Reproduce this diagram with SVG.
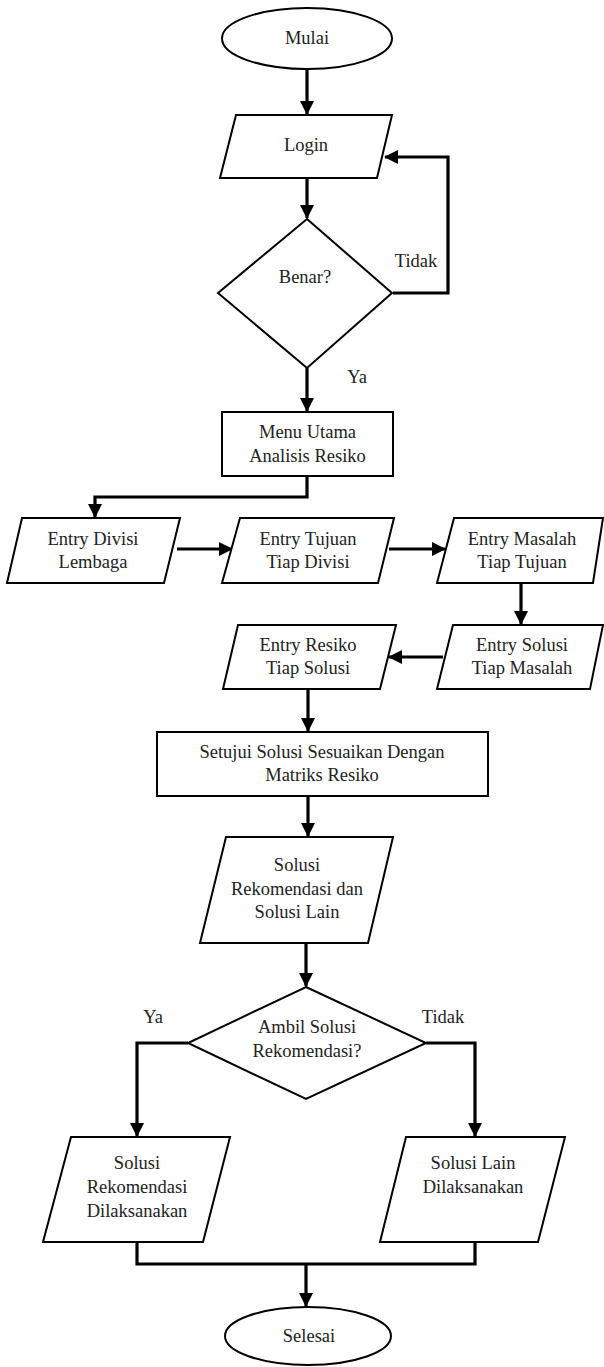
<svg xmlns="http://www.w3.org/2000/svg" width="604" height="1367" viewBox="0 0 604 1367">
<style>
.s{fill:#fff;stroke:#000;stroke-width:2}
.c{fill:none;stroke:#000;stroke-width:3.2}
.t{font-family:"Liberation Serif","Times New Roman",serif;font-size:18.5px;fill:#222;text-anchor:middle}
</style>
<defs>
<marker id="ah" markerUnits="userSpaceOnUse" markerWidth="14" markerHeight="14" viewBox="0 0 14 14" refX="13" refY="7" orient="auto">
<path d="M0,0 L14,7 L0,14 Z" fill="#000"/>
</marker>
</defs>
<rect width="604" height="1367" fill="#fff"/>
<g id="connectors">
<path class="c" d="M307,69 V114" marker-end="url(#ah)"/>
<path class="c" d="M307,178 V218" marker-end="url(#ah)"/>
<path class="c" d="M393,293 H448 V157 H385" marker-end="url(#ah)"/>
<path class="c" d="M307,368 V411" marker-end="url(#ah)"/>
<path class="c" d="M307,476 V497 H95 V517" marker-end="url(#ah)"/>
<path class="c" d="M177,549 H232" marker-end="url(#ah)"/>
<path class="c" d="M389,549 H445" marker-end="url(#ah)"/>
<path class="c" d="M521,583 V624" marker-end="url(#ah)"/>
<path class="c" d="M443,657 H389" marker-end="url(#ah)"/>
<path class="c" d="M308,689 V731" marker-end="url(#ah)"/>
<path class="c" d="M308,796 V836" marker-end="url(#ah)"/>
<path class="c" d="M306,943 V986" marker-end="url(#ah)"/>
<path class="c" d="M188,1043 H137 V1136" marker-end="url(#ah)"/>
<path class="c" d="M426,1043 H475 V1136" marker-end="url(#ah)"/>
<path class="c" d="M137,1242 V1264 H475 V1242"/>
<path class="c" d="M306,1264 V1306" marker-end="url(#ah)"/>
</g>
<g id="mulai">
<ellipse class="s" cx="307" cy="38.5" rx="85" ry="30.5"/>
<text class="t" x="307" y="44">Mulai</text>
</g>
<g id="login">
<polygon class="s" points="236,115 392,115 377,178 220,178"/>
<text class="t" x="306" y="151">Login</text>
</g>
<g id="benar">
<polygon class="s" points="307,219 392,293 307,368 218,293"/>
<text class="t" x="305" y="283">Benar?</text>
</g>
<text class="t" x="416" y="267">Tidak</text>
<text class="t" x="357" y="383">Ya</text>
<g id="menu">
<rect class="s" x="222" y="412" width="171" height="64"/>
<text class="t" x="307.5" y="438">Menu Utama</text>
<text class="t" x="307.5" y="462">Analisis Resiko</text>
</g>
<g id="divisi">
<polygon class="s" points="22,518 180,518 164,583 7,583"/>
<text class="t" x="93" y="545">Entry Divisi</text>
<text class="t" x="93" y="568">Lembaga</text>
</g>
<g id="tujuan">
<polygon class="s" points="240,518 394,518 378,583 222,583"/>
<text class="t" x="308" y="545">Entry Tujuan</text>
<text class="t" x="308" y="568">Tiap Divisi</text>
</g>
<g id="masalah">
<polygon class="s" points="454,518 603,518 593,583 437,583"/>
<text class="t" x="522" y="545">Entry Masalah</text>
<text class="t" x="522" y="568">Tiap Tujuan</text>
</g>
<g id="solusi">
<polygon class="s" points="453,625 603,625 590,689 437,689"/>
<text class="t" x="522" y="651">Entry Solusi</text>
<text class="t" x="522" y="674">Tiap Masalah</text>
</g>
<g id="resiko">
<polygon class="s" points="238,625 396,625 380,689 223,689"/>
<text class="t" x="308" y="651">Entry Resiko</text>
<text class="t" x="308" y="674">Tiap Solusi</text>
</g>
<g id="setujui">
<rect class="s" x="157" y="732" width="331" height="64"/>
<text class="t" x="322" y="758">Setujui Solusi Sesuaikan Dengan</text>
<text class="t" x="322" y="781">Matriks Resiko</text>
</g>
<g id="rekomendasi">
<polygon class="s" points="226,837 393,837 368,943 200,943"/>
<text class="t" x="297" y="871">Solusi</text>
<text class="t" x="297" y="895">Rekomendasi dan</text>
<text class="t" x="297" y="918">Solusi Lain</text>
</g>
<g id="ambil">
<polygon class="s" points="306,987 426,1043 306,1099 188,1043"/>
<text class="t" x="307" y="1033">Ambil Solusi</text>
<text class="t" x="307" y="1057">Rekomendasi?</text>
</g>
<text class="t" x="153" y="1023">Ya</text>
<text class="t" x="443" y="1023">Tidak</text>
<g id="rek-dilaksanakan">
<polygon class="s" points="71,1137 230,1137 203,1242 43,1242"/>
<text class="t" x="137" y="1169">Solusi</text>
<text class="t" x="137" y="1193">Rekomendasi</text>
<text class="t" x="137" y="1217">Dilaksanakan</text>
</g>
<g id="lain-dilaksanakan">
<polygon class="s" points="406,1137 565,1137 538,1242 380,1242"/>
<text class="t" x="473" y="1169">Solusi Lain</text>
<text class="t" x="473" y="1193">Dilaksanakan</text>
</g>
<g id="selesai">
<ellipse class="s" cx="308" cy="1336" rx="83" ry="29"/>
<text class="t" x="309" y="1342">Selesai</text>
</g>
</svg>
